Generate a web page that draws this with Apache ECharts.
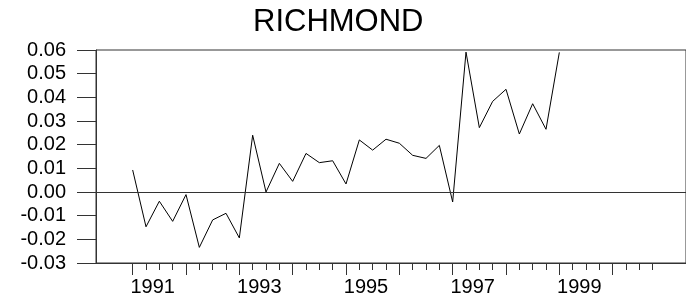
<!DOCTYPE html>
<html>
<head>
<meta charset="utf-8">
<script src="https://cdn.jsdelivr.net/npm/echarts@6/dist/echarts.min.js"></script>
<style>
  * { margin: 0; padding: 0; }
  body { background: #fff; }
</style>
</head>
<body>
<div id="main" style="width: 686px;height: 302px;"></div>
<script>
  // quarterly periods, 1991Q1 .. 1999Q1
  var periods = ['1991Q1','1991Q2','1991Q3','1991Q4',
                 '1992Q1','1992Q2','1992Q3','1992Q4',
                 '1993Q1','1993Q2','1993Q3','1993Q4',
                 '1994Q1','1994Q2','1994Q3','1994Q4',
                 '1995Q1','1995Q2','1995Q3','1995Q4',
                 '1996Q1','1996Q2','1996Q3','1996Q4',
                 '1997Q1','1997Q2','1997Q3','1997Q4',
                 '1998Q1','1998Q2','1998Q3','1998Q4',
                 '1999Q1'];
  var richmond = [0.0093, -0.0147, -0.0039, -0.0124,
                  -0.0011, -0.0234, -0.0118, -0.0090,
                  -0.0194, 0.0240, 0.0000, 0.0121,
                  0.0045, 0.0163, 0.0124, 0.0132,
                  0.0034, 0.0220, 0.0177, 0.0223,
                  0.0206, 0.0155, 0.0142, 0.0197,
                  -0.0042, 0.0591, 0.0272, 0.0383,
                  0.0434, 0.0245, 0.0373, 0.0265,
                  0.0590];
  var yearLabels = ['1991', '1993', '1995', '1997', '1999'];
  var firstYear = 1991, lastYear = 2000;

  // quarter index counted from 1991Q1
  function qIndex(p) {
    return (parseInt(p.slice(0, 4)) - firstYear) * 4 + parseInt(p.slice(5)) - 1;
  }

  var yearTicks = [], quarterTicks = [];
  for (var y = firstYear; y <= lastYear; y++) {
    yearTicks.push((y - firstYear) * 4);
    for (var q = 0; q < 4; q++) quarterTicks.push((y - firstYear) * 4 + q);
  }
  var labelPos = yearLabels.map(function (s) { return (parseInt(s) - firstYear) * 4 + 1.5; });

  var seriesData = periods.map(function (p, i) { return [qIndex(p), richmond[i]]; });

  var font = 'Liberation Sans, Arial, sans-serif';
  var axisColor = '#333';

  var chart = echarts.init(document.getElementById('main'));
  chart.setOption({
    animation: false,
    title: {
      text: 'RICHMOND',
      left: 248,
      top: 2,
      textStyle: { fontFamily: font, fontSize: 31, fontWeight: 'normal', color: '#000' }
    },
    grid: {
      left: 96, right: -2, top: 50, bottom: 39,
      show: true, borderColor: axisColor, borderWidth: 1, backgroundColor: 'transparent'
    },
    xAxis: [{
      type: 'value',
      position: 'bottom',
      min: -2.75,
      max: 41.5,
      axisLine: { show: true, onZero: false, lineStyle: { color: axisColor, width: 1 } },
      axisTick: { show: true, customValues: yearTicks, length: 12, lineStyle: { color: axisColor } },
      axisLabel: {
        customValues: labelPos,
        margin: 14,
        fontFamily: font, fontSize: 20, color: '#000',
        formatter: function (v) { return String(firstYear + Math.floor(v / 4)); }
      },
      splitLine: { show: false }
    }, {
      // quarterly minor ticks, pulled down onto the bottom edge
      type: 'value',
      position: 'top',
      offset: -213,
      min: -2.75,
      max: 41.5,
      axisLine: { show: false, onZero: false },
      axisTick: { show: true, inside: true, customValues: quarterTicks, length: 7, lineStyle: { color: axisColor } },
      axisLabel: { show: false },
      splitLine: { show: false }
    }],
    yAxis: {
      type: 'value',
      min: -0.03,
      max: 0.06,
      interval: 0.01,
      axisLine: { show: true, onZero: false, lineStyle: { color: axisColor, width: 1 } },
      axisTick: { show: true, length: 19, lineStyle: { color: axisColor } },
      axisLabel: {
        margin: 30,
        fontFamily: font, fontSize: 20, color: '#000',
        formatter: function (v) { return v.toFixed(2); }
      },
      splitLine: { show: false }
    },
    series: [{
      name: 'RICHMOND',
      type: 'line',
      xAxisIndex: 0,
      data: seriesData,
      showSymbol: false,
      lineStyle: { color: '#000', width: 1 },
      markLine: {
        silent: true,
        symbol: 'none',
        label: { show: false },
        lineStyle: { color: axisColor, width: 1, type: 'solid' },
        data: [{ yAxis: 0 }]
      }
    }]
  });
</script>
</body>
</html>
